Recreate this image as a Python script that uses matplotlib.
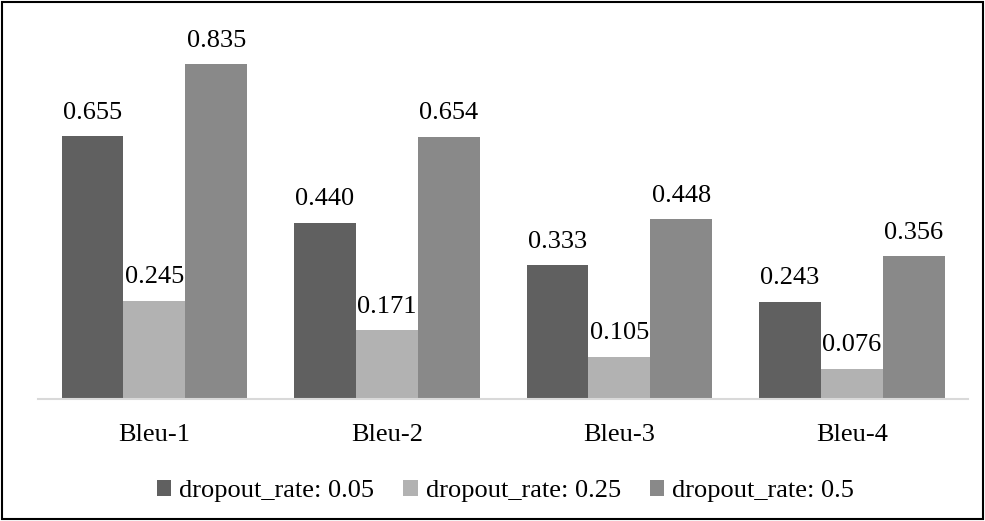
import matplotlib.pyplot as plt
import numpy as np
from matplotlib.patches import Rectangle

plt.rcParams['font.family'] = ['Liberation Serif', 'DejaVu Serif']

categories = ['Bleu-1', 'Bleu-2', 'Bleu-3', 'Bleu-4']
series_names = ['dropout_rate: 0.05', 'dropout_rate: 0.25', 'dropout_rate: 0.5']
rate_005 = [0.655, 0.440, 0.333, 0.243]
rate_025 = [0.245, 0.171, 0.105, 0.076]
rate_05 = [0.835, 0.654, 0.448, 0.356]
colors = ['#606060', '#b2b2b2', '#898989']

fig = plt.figure(figsize=(9.85, 5.21), dpi=100)
ax = fig.add_axes([0.0386, 0.234, 0.9444, 0.693])

x = np.arange(len(categories))
w = 0.266
for i, (vals, name) in enumerate(zip([rate_005, rate_025, rate_05], series_names)):
    bars = ax.bar(x + (i - 1) * w, vals, w, color=colors[i], label=name)
    for b, v in zip(bars, vals):
        ax.annotate('%.3f' % v, (b.get_x() + b.get_width() / 2, v),
                    xytext=(0, 9), textcoords='offset points',
                    ha='center', va='bottom', fontsize=19)

ax.set_xlim(-0.5, 3.5)
ax.set_ylim(0, 0.9)
ax.set_xticks(x)
ax.set_xticklabels(categories, fontsize=19)
ax.tick_params(axis='x', length=0, pad=18)
ax.set_yticks([])
for s in ['top', 'right', 'left']:
    ax.spines[s].set_visible(False)
ax.spines['bottom'].set_color('#d9d9d9')
ax.spines['bottom'].set_linewidth(1.5)

fig.legend(loc='center', bbox_to_anchor=(0.513, 0.058), ncol=3, frameon=False,
           fontsize=19, handlelength=0.55, handleheight=0.55,
           handletextpad=0.3, columnspacing=1.1)

# border round the whole figure
fig.patches.append(Rectangle((0.002, 0.003), 0.996, 0.994, transform=fig.transFigure,
                             fill=False, edgecolor='black', linewidth=1.5))

plt.savefig('out.png')
